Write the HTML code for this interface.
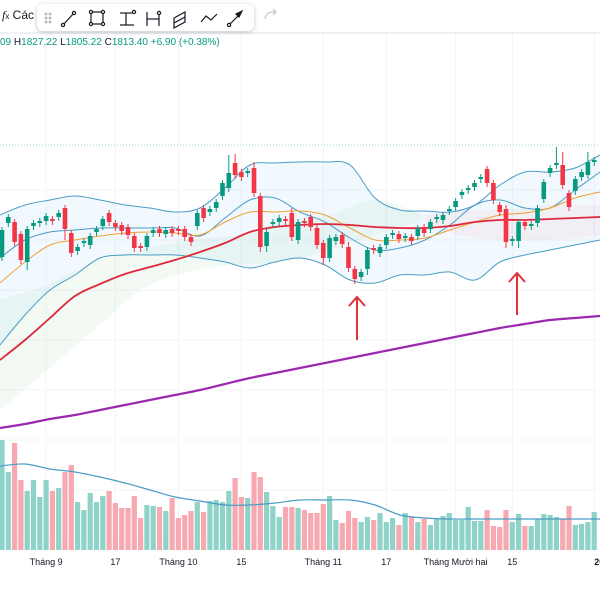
<!DOCTYPE html>
<html><head><meta charset="utf-8">
<style>
html,body{margin:0;padding:0;background:#fff;width:600px;height:600px;overflow:hidden;font-family:"Liberation Sans",sans-serif}
#wrap{position:relative;width:600px;height:600px}
svg{position:absolute;left:0;top:0}
.toolbar{position:absolute;left:37px;top:4px;width:217px;height:27px;background:#fff;border-radius:6px;box-shadow:0 1px 4px rgba(0,0,0,0.25)}
.ohlc{position:absolute;left:0;top:37px;font-size:10px;color:#089981;white-space:nowrap}
.ohlc b{font-weight:normal;color:#131722}
.fx{position:absolute;left:2px;top:8px;font-size:12px;color:#131722}
</style></head><body>
<div id="wrap">
<svg id="chart" width="600" height="600"></svg>
<div class="fx"><i style="font-family:'Liberation Serif',serif">f</i><span style="font-size:8px">x</span> Các</div>
<div class="toolbar">
<svg width="217" height="27">
<g stroke="#bbb" fill="#bbb"><circle cx="9" cy="10" r="1"/><circle cx="13" cy="10" r="1"/><circle cx="9" cy="14" r="1"/><circle cx="13" cy="14" r="1"/><circle cx="9" cy="18" r="1"/><circle cx="13" cy="18" r="1"/></g>
<g stroke="#131722" fill="none" stroke-width="1.2">
<g><line x1="26" y1="21" x2="37" y2="9"/><circle cx="26" cy="21" r="1.6" fill="#fff"/><circle cx="37" cy="9" r="1.6" fill="#fff"/></g>
<g><rect x="54" y="8" width="12" height="12"/><circle cx="54" cy="8" r="1.6" fill="#fff"/><circle cx="66" cy="8" r="1.6" fill="#fff"/><circle cx="54" cy="20" r="1.6" fill="#fff"/><circle cx="66" cy="20" r="1.6" fill="#fff"/></g>
<g><line x1="83" y1="9" x2="95" y2="9"/><line x1="83" y1="21" x2="97" y2="21"/><line x1="89" y1="9" x2="89" y2="21"/><circle cx="97" cy="8" r="1.6" fill="#fff"/></g>
<g><line x1="110" y1="8" x2="110" y2="22"/><line x1="122" y1="8" x2="122" y2="22"/><line x1="110" y1="15" x2="122" y2="15"/><circle cx="122" cy="9" r="1.6" fill="#fff"/></g>
<g><path d="M137 14 L148 8 L148 13 L137 19 Z M137 19 L148 13 L148 18 L137 24 Z"/></g>
<g><polyline points="164,18 169,12 174,16 180,10"/></g>
<g><line x1="192" y1="21" x2="204" y2="9"/><polygon points="205,7 199,10 202,13" fill="#131722"/><circle cx="192" cy="21" r="1.6" fill="#fff"/></g>
</g></svg></div>
<div class="ohlc">09 <b>H</b>1827.22 <b>L</b>1805.22 <b>C</b>1813.40 +6.90 (+0.38%)</div>
</div>
<script>
// candle data (price units)
const opens=[1743,1777,1778,1766,1738,1774,1777,1779,1781,1783,1792,1767,1749,1757,1755,1768,1774,1787,1777,1775,1773,1764,1754,1753,1767,1771,1766,1771,1771,1771,1763,1774,1792,1788,1792,1804,1812,1837,1828,1827,1832,1804,1754,1776,1778,1781,1787,1760,1779,1783,1772,1757,1742,1759,1765,1753,1731,1723,1731,1752,1747,1755,1765,1766,1762,1763,1764,1773,1771,1781,1780,1789,1793,1805,1810,1813,1821,1831,1817,1795,1791,1759,1759,1778,1774,1777,1801,1827,1835,1835,1807,1809,1823,1825,1838];
const closes=[1770,1783,1758,1740,1771,1777,1779,1784,1779,1787,1771,1747,1753,1759,1764,1771,1781,1778,1773,1769,1765,1752,1752,1764,1770,1767,1770,1767,1769,1763,1758,1787,1782,1791,1798,1817,1827,1825,1823,1829,1807,1753,1768,1778,1782,1779,1763,1778,1777,1773,1755,1742,1762,1763,1756,1732,1721,1728,1750,1750,1753,1763,1767,1761,1764,1759,1772,1767,1778,1783,1785,1791,1799,1808,1812,1817,1823,1817,1800,1788,1758,1761,1778,1774,1776,1792,1818,1832,1837,1815,1793,1821,1828,1838,1840];
const highOverride={36:1845,37:1846,40:1838,46:1792,55:1758,80:1795,88:1853,89:1848,93:1848};
const lowOverride={4:1730,10:1760,41:1748,42:1748,51:1735,56:1716,58:1725,80:1752,81:1754,82:1752};
const volumes=[110,78,107,70,59,70,53,70,59,62,78,85,48,40,57,48,54,59,47,42,42,54,32,45,44,43,39,52,32,35,39,48,38,49,50,48,59,72,53,52,78,73,58,44,33,43,43,42,40,37,37,46,54,30,27,39,32,28,33,30,37,28,32,25,37,33,28,31,25,32,34,37,30,30,43,29,29,40,24,23,40,28,36,24,24,31,36,35,33,31,44,25,26,28,38];
// indicator series sampled every 25px of time axis (price units)
const bbUpper=[1785,1795,1800,1804,1800,1795,1792,1788,1792,1812,1835,1837,1838,1838,1835,1802,1790,1789,1788,1795,1815,1828,1828,1832,1845];
const bbBasis=[1742,1760,1768,1770,1772,1772,1772,1772,1764,1782,1800,1802,1788,1778,1762,1750,1752,1760,1775,1795,1800,1792,1792,1810,1828];
const bbLower=[1655,1685,1710,1725,1742,1745,1745,1745,1742,1738,1732,1738,1742,1735,1720,1717,1725,1725,1728,1720,1738,1745,1750,1755,1760];
const ema20=[1717,1738,1755,1760,1764,1767,1768,1767,1765,1778,1788,1788,1789,1785,1772,1760,1760,1762,1770,1778,1785,1787,1792,1802,1808];
const ma50=[1640,1660,1682,1704,1716,1726,1733,1740,1748,1757,1768,1773,1775,1776,1775,1773,1772,1772,1774,1778,1780,1780,1781,1782,1783];
const ma200=[1572,1576,1581,1585,1590,1595,1600,1605,1610,1616,1622,1627,1632,1637,1642,1647,1652,1657,1662,1667,1672,1676,1680,1682,1684];
const volMA=[84,86,81,78,73,67,60,53,49,45,45,47,50,50,50,45,35,32,31,31,31,31,31,31,31];
const cloudGreenTop=[1700,1715,1738,1750,1760,1765,1778,1785,1800,1785];
const cloudGreenBot=[1590,1630,1670,1710,1728,1735,1738,1750,1765,1780];
const cloudPinkTop=[1785,1788,1790,1790,1792,1795,1795,1795];
const cloudPinkBot=[1780,1768,1762,1760,1760,1760,1762,1765];
const monthLabels=["Tháng 9","17","Tháng 10","15","Tháng 11","17","Tháng Mười hai","15","20"];
const monthIdx=[7,18,28,38,51,61,72,81,94];

const svg=document.getElementById('chart');
const NS='http://www.w3.org/2000/svg';
const step=6.3, x0=2;
const xIdx=i=>x0+i*step;
const xT=k=>k*25;
const yP=p=>2000-p;
const yV=v=>550-v;
function mk(tag,attrs,parent){const e=document.createElementNS(NS,tag);for(const k in attrs)e.setAttribute(k,attrs[k]);(parent||svg).appendChild(e);return e;}
function smoothSeg(pts){let d='';for(let i=0;i<pts.length-1;i++){const p0=pts[Math.max(0,i-1)],p1=pts[i],p2=pts[i+1],p3=pts[Math.min(pts.length-1,i+2)];
const c1=[p1[0]+(p2[0]-p0[0])/6,p1[1]+(p2[1]-p0[1])/6],c2=[p2[0]-(p3[0]-p1[0])/6,p2[1]-(p3[1]-p1[1])/6];
d+=' C'+c1[0]+' '+c1[1]+' '+c2[0]+' '+c2[1]+' '+p2[0]+' '+p2[1];}return d;}
function smooth(pts){return 'M'+pts[0][0]+' '+pts[0][1]+smoothSeg(pts);}

// grid
const grid=mk('g',{});


monthIdx.forEach(i=>{mk('line',{x1:xIdx(i),x2:xIdx(i),y1:33,y2:552,stroke:'#f0f3fa','stroke-width':1},grid);});
[190,240,290,340,390,440,490,540].forEach(y=>mk('line',{x1:0,x2:600,y1:y,y2:y,stroke:'#f3f4f8'},grid));
const sep=mk('line',{x1:0,x2:600,y1:33,y2:33,stroke:'#e0e3eb','stroke-width':1});


const dl=mk('line',{x1:0,x2:600,y1:145,y2:145,stroke:'#9fd6cc','stroke-dasharray':'1 2'});



// clouds
function area(top,bot,x0c,dx,fill,name){const pts=top.map((v,i)=>[x0c+i*dx,yP(v)]);const pb=bot.map((v,i)=>[x0c+i*dx,yP(v)]).reverse();
const e=mk('path',{d:smooth(pts)+' L'+pb[0][0]+' '+pb[0][1]+smoothSeg(pb)+' Z',fill:fill});

}
area(cloudGreenTop,cloudGreenBot,0,47,'rgba(120,200,130,0.09)','ichimoku-cloud-green');
area(cloudPinkTop,cloudPinkBot,425,25,'rgba(240,120,130,0.08)','ichimoku-cloud-red');

// BB fill
{const up=bbUpper.map((v,k)=>[xT(k),yP(v)]),lr=bbLower.map((v,k)=>[xT(k),yP(v)]).reverse();
const f=mk('path',{d:smooth(up)+' L'+lr[0][0]+' '+lr[0][1]+smoothSeg(lr)+' Z',fill:'rgba(33,150,243,0.06)'});

}
function line(arr,color,w,name,sc){const p=mk('path',{d:smooth(arr.map((v,k)=>[xT(k),(sc||yP)(v)])),fill:'none',stroke:color,'stroke-width':w});

}
line(bbUpper,'#4a9cc7',1,'bollinger-upper');
line(bbBasis,'#4a9cc7',1,'bollinger-basis');
line(bbLower,'#4a9cc7',1,'bollinger-lower');
line(ema20,'#f0a030',1,'ema-20');
line(ma50,'#e0283c',1.8,'ma-50');
line(ma200,'#9c27b0',2.2,'ma-200');

// candles
const cg=mk('g',{});


opens.forEach((o,i)=>{const c=closes[i];const up=c>=o;const col=up?'#089981':'#f23645';
const hi=highOverride[i]!==undefined?highOverride[i]:Math.max(o,c)+3;
const lo=lowOverride[i]!==undefined?lowOverride[i]:Math.min(o,c)-4;
const g=mk('g',{},cg);


const x=xIdx(i);
mk('line',{x1:x,x2:x,y1:yP(hi),y2:yP(lo),stroke:col,'stroke-width':1},g);
const t=yP(Math.max(o,c)),b=yP(Math.min(o,c));
mk('rect',{x:x-2.3,y:t,width:4.6,height:Math.max(1.2,b-t),fill:col},g);});

// volume
const vg=mk('g',{});


volumes.forEach((v,i)=>{const up=closes[i]>=opens[i];
const r=mk('rect',{x:xIdx(i)-2.6,y:yV(v),width:5.2,height:v,fill:up?'#8fd3c8':'#f7a9b1'},vg);

});
line(volMA,'#4a9cc7',1.2,'volume-ma',yV);

// arrows
[[357,297,340],[517,273,315]].forEach((a,j)=>{const g=mk('g',{stroke:'#e3303d','stroke-width':2,fill:'none'});


mk('line',{x1:a[0],x2:a[0],y1:a[1],y2:a[2]},g);
mk('polyline',{points:(a[0]-8)+','+(a[1]+9)+' '+a[0]+','+a[1]+' '+(a[0]+8)+','+(a[1]+9)},g);});

// x-axis labels
const xg=mk('g',{'font-size':'9','fill':'#131722','font-family':'Liberation Sans, sans-serif'});


monthLabels.forEach((t,k)=>{const e=mk('text',{x:xIdx(monthIdx[k]),y:565,'text-anchor':k===8?'start':'middle','font-weight':k===8?'bold':'normal'},xg);e.textContent=t;

});

// redo icon
const rd=mk('path',{d:'M265 19 Q266 12 273 12 L276 12 M273 9 L276 12 L273 15',fill:'none',stroke:'#c8c8c8','stroke-width':1.3});


</script>
</body></html>
